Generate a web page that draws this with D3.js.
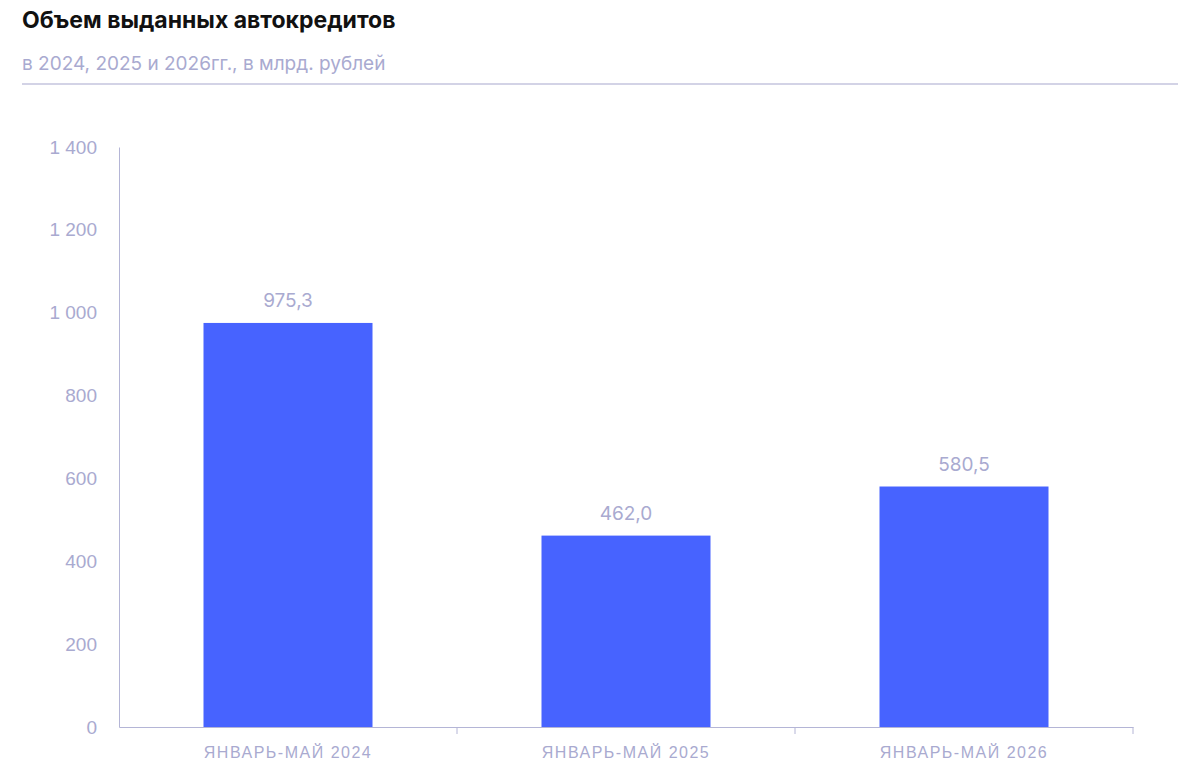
<!DOCTYPE html>
<meta charset="utf-8">
<style>
body{margin:0;background:#fff;font-family:"Inter","Noto Sans",sans-serif;}
.axis text{font-size:19px;fill:#a9aad0;}
.xaxis text{font-size:16px;letter-spacing:1.5px;}
</style>
<body>
<svg id="chart" width="1200" height="780"></svg>
<script src="https://cdn.jsdelivr.net/npm/d3@7"></script>
<script>
var categories = ["ЯНВАРЬ-МАЙ 2024","ЯНВАРЬ-МАЙ 2025","ЯНВАРЬ-МАЙ 2026"]
var values = [975.3, 462.0, 580.5]
var yTicks = [0,200,400,600,800,1000,1200,1400]

var svg = d3.select("#chart")
var axisColor = "#b4b5d6"

svg.append("text").attr("x",22).attr("y",28).attr("font-size",23).attr("font-weight","bold")
  .attr("fill","#111").text("Объем выданных автокредитов")
svg.append("text").attr("x",22).attr("y",70).attr("font-size",19).attr("fill","#a9aad0")
  .text("в 2024, 2025 и 2026гг., в млрд. рублей")
svg.append("line").attr("x1",22).attr("x2",1178).attr("y1",84).attr("y2",84)
  .attr("stroke","#c4c5de").attr("stroke-width",1.5)

var x = d3.scaleBand().domain(categories).range([119,1133]).paddingInner(0.5).paddingOuter(0.25)
var y = d3.scaleLinear().domain([0,1400]).range([727,147])
var fmt = function(d){ return d3.format(",")(d).replace(/,/g," ") }

var yAxis = svg.append("g").attr("class","axis").attr("transform","translate(119,0)")
  .call(d3.axisLeft(y).tickValues(yTicks).tickSize(0).tickPadding(22).tickFormat(fmt))
yAxis.select(".domain").attr("stroke",axisColor)

var xAxis = svg.append("g").attr("class","axis xaxis").attr("transform","translate(0,727)")
  .call(d3.axisBottom(x).tickSize(0).tickPadding(20))
xAxis.select(".domain").attr("stroke",axisColor)
// boundary ticks between categories
var bounds = [1,2,3].map(function(i){ return 119 + i*(1133-119)/3 })
xAxis.selectAll(".bt").data(bounds).enter().append("line")
  .attr("x1",function(d){return d}).attr("x2",function(d){return d})
  .attr("y1",0).attr("y2",7).attr("stroke",axisColor)

svg.selectAll(".bar").data(values).enter().append("rect")
  .attr("x",function(d,i){return x(categories[i])})
  .attr("width",x.bandwidth())
  .attr("y",function(d){return y(d)})
  .attr("height",function(d){return y(0)-y(d)})
  .attr("fill","#4763ff")

svg.selectAll(".lbl").data(values).enter().append("text")
  .attr("x",function(d,i){return x(categories[i])+x.bandwidth()/2})
  .attr("y",function(d){return y(d)-16})
  .attr("text-anchor","middle").attr("font-size",19).attr("fill","#a9aad0")
  .text(function(d){return d.toFixed(1).replace(".",",")})
</script>
</body>
